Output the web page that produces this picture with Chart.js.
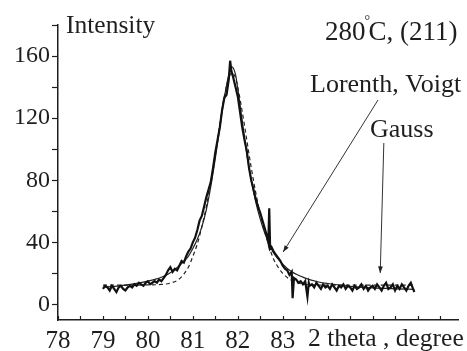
<!DOCTYPE html>
<html><head><meta charset="utf-8">
<script src="https://cdn.jsdelivr.net/npm/chart.js@4/dist/chart.umd.min.js"></script>
<style>html,body{margin:0;padding:0;background:#fff;}#wrap{width:467px;height:351px;}</style>
</head><body><div id="wrap"><canvas id="c" width="467" height="351"></canvas></div>
<script>
const xTickLabels = ['78','79','80','81','82','83'];
const yTickLabels = ['0','40','80','120','160'];
const xAxisTitle = '2 theta , degree';
const yAxisTitle = 'Intensity';
const titleText = '280°C, (211)';
const labelLV = 'Lorenth, Voigt';
const labelGauss = 'Gauss';

const expX = [79.00,79.05,79.10,79.15,79.20,79.25,79.30,79.35,79.40,79.45,79.50,79.55,79.60,79.65,79.70,79.75,79.80,79.85,79.90,79.95,
80.00,80.05,80.10,80.15,80.20,80.25,80.30,80.35,80.40,80.45,80.50,80.55,80.60,80.65,80.70,80.75,80.80,80.85,80.90,80.95,
81.00,81.05,81.10,81.15,81.20,81.25,81.30,81.35,81.40,81.45,81.50,81.55,81.60,81.65,81.70,81.75,81.80,81.83,81.86,81.90,81.95,
82.00,82.05,82.10,82.15,82.20,82.25,82.30,82.35,82.40,82.45,82.50,82.55,82.60,82.65,82.68,82.70,82.72,82.75,82.80,82.85,82.90,82.95,
83.00,83.05,83.10,83.15,83.20,83.22,83.25,83.30,83.35,83.40,83.45,83.50,83.55,83.58,83.60,83.65,83.70,83.75,83.80,83.85,83.90,83.95,
84.00,84.05,84.10,84.15,84.20,84.25,84.30,84.35,84.40,84.45,84.50,84.55,84.60,84.65,84.70,84.75,84.80,84.85,84.90,84.95,
85.00,85.05,85.10,85.15,85.20,85.25,85.30,85.35,85.40,85.45,85.50,85.55,85.60,85.65,85.70,85.75,85.80,85.85,85.90,85.93];
const expY = [10,12,11,9,12,10,8,11,12,10,9,11,12,11,13,12,14,13,12,14,
15,13,14,15,14,16,15,17,19,22,24,21,23,22,25,28,27,31,34,36,
40,43,48,54,57,63,69,74,79,88,98,106,114,125,133,135,145,157,150,146,140,
134,124,114,106,99,88,80,74,68,63,59,54,49,44,40,62,36,37,34,32,30,28,
25,23,22,19,21,4,17,16,14,15,13,15,5,14,12,13,11,14,12,10,13,11,
12,10,13,11,9,12,11,13,10,12,11,9,12,10,11,13,10,12,9,11,
12,10,13,11,9,12,14,10,11,13,9,12,10,13,11,9,12,14,10,8];

const lorX = [79.0,79.5,80.0,80.3,80.5,80.7,80.9,81.0,81.1,81.2,81.3,81.4,81.5,81.6,81.7,81.8,81.87,81.95,82.0,82.1,82.2,82.3,82.4,82.5,82.6,82.7,82.8,83.0,83.2,83.5,83.8,84.0,84.5,85.0,85.5,85.93];
const lorY = [11,12.5,15,17.5,20.5,25,31,36,42,50,61,76,94,114,133,148,153,148,139,118,97,80,66,55,46,39,33,26,21,17,14.5,13.5,11.7,10.7,10.1,9.7];

const gauX = [79.0,79.5,80.0,80.3,80.5,80.7,80.9,81.0,81.1,81.2,81.3,81.4,81.5,81.6,81.7,81.8,81.87,81.95,82.0,82.1,82.2,82.3,82.4,82.5,82.6,82.7,82.8,82.9,83.0,83.2,83.5,84.0,85.0,85.93];
const gauY = [12.5,12.5,12.6,12.9,13.8,16.5,24,31,39,50,63,79,97,116,134,146,149,146,140,124,106,88,72,58,47,37,29,24,20,15.5,13,12.5,12.5,12.5];

// annotation pointer lines in data coordinates [x1,y1,x2,y2]
const pointerLV = [85.12, 131.7, 83.01, 33.8];
const pointerGauss = [85.25, 104, 85.17, 20.3];

const FONT = 'Liberation Serif, Times New Roman, serif';
const INK = '#1e1e1e';

const toPts = (xs, ys) => xs.map((x,i)=>({x:x, y:ys[i]}));

const decor = {
  id:'decor',
  afterDraw(chart){
    const ctx = chart.ctx, xs = chart.scales.x, ys = chart.scales.y, a = chart.chartArea;
    ctx.save();
    ctx.strokeStyle = INK; ctx.lineWidth = 1.2;
    xs.ticks.forEach(t=>{
      const px = Math.round(xs.getPixelForValue(t.value))+0.5;
      ctx.beginPath(); ctx.moveTo(px, a.bottom); ctx.lineTo(px, a.bottom-4); ctx.stroke();
    });
    ctx.fillStyle = INK; ctx.textBaseline = 'alphabetic';
    ctx.textAlign = 'left';
    ctx.font = '25.5px ' + FONT;
    ctx.fillText(yAxisTitle, 66, 33);
    ctx.fillText(xAxisTitle, 308, 346);
    ctx.font = '26px ' + FONT;
    ctx.fillText(labelLV, 310, 92);
    ctx.fillText(labelGauss, 370, 137);
    ctx.font = '27px ' + FONT;
    const t1 = titleText.split('°');
    ctx.fillText(t1[0], 325, 40);
    let w = ctx.measureText(t1[0]).width;
    ctx.font = '14px ' + FONT;
    ctx.fillText('°', 325 + w - 1, 25);
    ctx.font = '27px ' + FONT;
    ctx.fillText(t1[1], 325 + w + 3, 40);
    const drawPointer = (p) => {
      const x1 = xs.getPixelForValue(p[0]), y1 = ys.getPixelForValue(p[1]);
      const x2 = xs.getPixelForValue(p[2]), y2 = ys.getPixelForValue(p[3]);
      ctx.strokeStyle = '#333'; ctx.lineWidth = 1;
      ctx.beginPath(); ctx.moveTo(x1,y1); ctx.lineTo(x2,y2); ctx.stroke();
      const ang = Math.atan2(y2-y1, x2-x1);
      ctx.fillStyle = '#222';
      ctx.beginPath();
      ctx.moveTo(x2,y2);
      ctx.lineTo(x2 - 7*Math.cos(ang-0.35), y2 - 7*Math.sin(ang-0.35));
      ctx.lineTo(x2 - 7*Math.cos(ang+0.35), y2 - 7*Math.sin(ang+0.35));
      ctx.closePath(); ctx.fill();
    };
    drawPointer(pointerLV);
    drawPointer(pointerGauss);
    ctx.restore();
  }
};

new Chart(document.getElementById('c'), {
  type:'line',
  data:{ datasets:[
    { label:'Experiment', data: toPts(expX, expY), borderColor:'#111', borderWidth:2.2, pointRadius:0, tension:0, order:1 },
    { label:'Lorentz, Voigt', data: toPts(lorX, lorY), borderColor:'#222', borderWidth:1.2, pointRadius:0, cubicInterpolationMode:'monotone', order:2 },
    { label:'Gauss', data: toPts(gauX, gauY), borderColor:'#222', borderWidth:1.2, borderDash:[4,3], pointRadius:0, cubicInterpolationMode:'monotone', order:3 }
  ]},
  options:{
    responsive:false, animation:false, devicePixelRatio:1,
    layout:{ padding:{ top:25, right:9, left:0, bottom:0 } },
    plugins:{ legend:{display:false}, tooltip:{enabled:false} },
    scales:{
      x:{ type:'linear', min:78, max:86.9,
        afterBuildTicks(s){ const t=[]; for(let v=78; v<=86.5; v+=0.5) t.push({value:v}); s.ticks=t; },
        afterFit(s){ s.height = 31; },
        grid:{ drawOnChartArea:false, drawTicks:false },
        border:{ display:true, color:INK, width:1.5 },
        ticks:{ autoSkip:false, maxRotation:0, padding:6, color:INK, font:{family:FONT, size:25},
          callback(v){ const s = String(v); return (Number.isInteger(v) && xTickLabels.includes(s)) ? s : ''; } }
      },
      y:{ type:'linear', min:-10, max:180,
        afterBuildTicks(s){ const t=[]; for(let v=0; v<=180; v+=20) t.push({value:v}); s.ticks=t; },
        afterFit(s){ s.width = 58; },
        grid:{ drawOnChartArea:false, drawTicks:true, tickLength:6, tickColor:INK, tickWidth:1.2 },
        border:{ display:true, color:INK, width:1.5 },
        ticks:{ autoSkip:false, padding:2, color:INK, font:{family:FONT, size:24},
          callback(v){ const s = String(v); return yTickLabels.includes(s) ? s : ''; } }
      }
    }
  },
  plugins:[decor]
});
</script></body></html>
